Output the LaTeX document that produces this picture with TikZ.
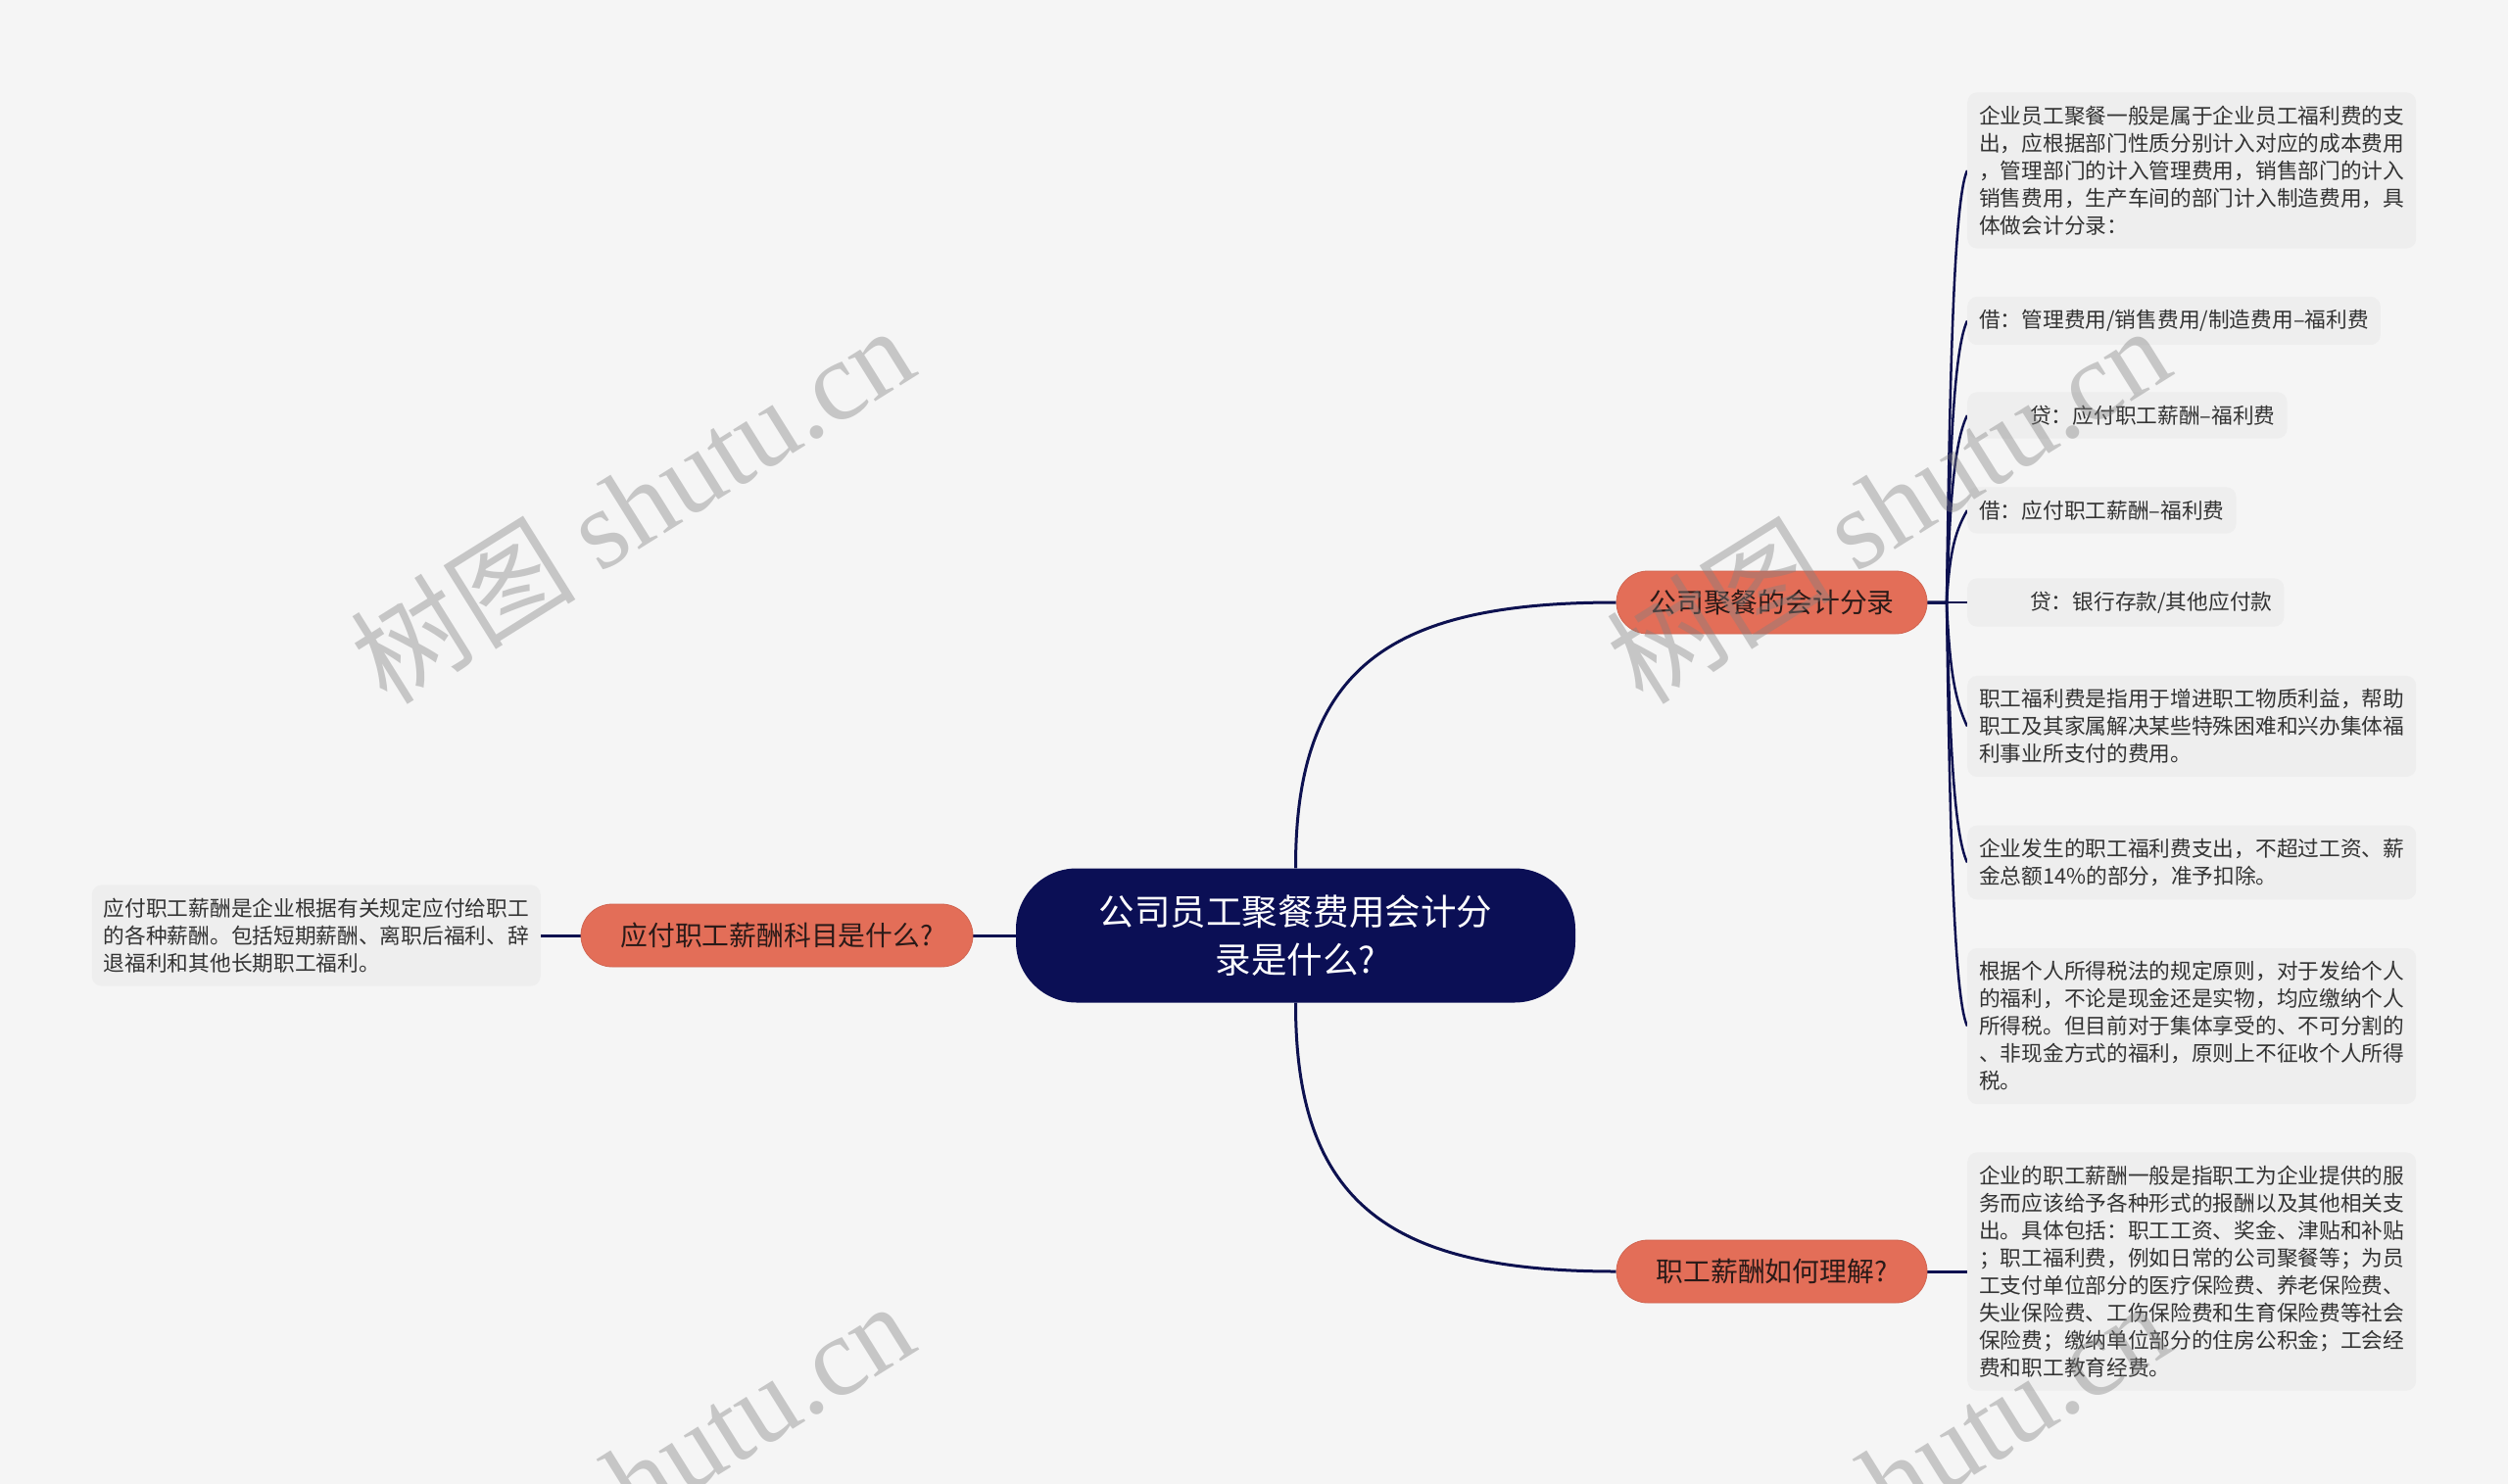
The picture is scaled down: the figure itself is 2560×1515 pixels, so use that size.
\documentclass[tikz,border=0pt]{standalone}
\usepackage{fontspec}
\setmainfont{Noto Sans CJK SC}
\newfontfamily\wmserif{Liberation Serif}
\usetikzlibrary{backgrounds}
\definecolor{bg}{HTML}{F5F5F5}
\definecolor{navy}{HTML}{0B0F55}
\definecolor{salmon}{HTML}{E36E58}
\definecolor{boxfill}{HTML}{EEEEEE}
\definecolor{linec}{HTML}{0D1150}
\definecolor{txt}{HTML}{333333}
\definecolor{topictxt}{HTML}{2A1A18}
\begin{document}
\begin{tikzpicture}[x=1pt,y=-1pt,
  root/.style={fill=navy, rounded corners=62pt, minimum width=571pt, minimum height=137pt, text=white, align=center, font=\fontsize{36.5}{49}\selectfont, inner sep=0pt},
  topic/.style={fill=salmon, draw=salmon!92!black, line width=0.8pt, rounded corners=32pt, minimum height=64pt, text=topictxt, font=\fontsize{27.8}{34}\selectfont, inner sep=0pt},
  leaf/.style={fill=boxfill, rounded corners=10pt, align=left, text=txt, font=\fontsize{21.7}{28}\selectfont, inner xsep=12pt, inner ysep=13.5pt},
  link/.style={draw=linec, line width=3pt},
  sublink/.style={draw=linec, line width=2.5pt},
  wm/.style={text=gray, opacity=0.4, rotate=32, font=\fontsize{115}{115}\selectfont}
]
\useasboundingbox (0,0) rectangle (2560,1515);

% nodes
\node[root] (c) at (1322.5,955) {公司员工聚餐费用会计分\\录是什么?};
\node[topic, minimum width=317pt] (t1) at (1808.5,615) {公司聚餐的会计分录};
\node[topic, minimum width=317pt] (t2) at (1808.5,1298) {职工薪酬如何理解?};
\node[topic, minimum width=400pt] (t3) at (793,955) {应付职工薪酬科目是什么?};

\node[leaf, anchor=east] (lb) at (552,955) {应付职工薪酬是企业根据有关规定应付给职工\\的各种薪酬。包括短期薪酬、离职后福利、辞\\退福利和其他长期职工福利。};

\node[leaf, anchor=west] (b1) at (2008,174) {企业员工聚餐一般是属于企业员工福利费的支\\出，应根据部门性质分别计入对应的成本费用\\，管理部门的计入管理费用，销售部门的计入\\销售费用，生产车间的部门计入制造费用，具\\体做会计分录：};
\node[leaf, anchor=west] (b2) at (2008,327.5) {借：管理费用/销售费用/制造费用–福利费};
\node[leaf, anchor=west] (b3) at (2008,424) {\hspace*{52pt}贷：应付职工薪酬–福利费};
\node[leaf, anchor=west] (b4) at (2008,521) {借：应付职工薪酬–福利费};
\node[leaf, anchor=west] (b5) at (2008,615) {\hspace*{52pt}贷：银行存款/其他应付款};
\node[leaf, anchor=west] (b6) at (2008,741.5) {职工福利费是指用于增进职工物质利益，帮助\\职工及其家属解决某些特殊困难和兴办集体福\\利事业所支付的费用。};
\node[leaf, anchor=west] (b7) at (2008,880.5) {企业发生的职工福利费支出，不超过工资、薪\\金总额14\%的部分，准予扣除。};
\node[leaf, anchor=west] (b8) at (2008,1047.5) {根据个人所得税法的规定原则，对于发给个人\\的福利，不论是现金还是实物，均应缴纳个人\\所得税。但目前对于集体享受的、不可分割的\\、非现金方式的福利，原则上不征收个人所得\\税。};
\node[leaf, anchor=west] (b9) at (2008,1298) {企业的职工薪酬一般是指职工为企业提供的服\\务而应该给予各种形式的报酬以及其他相关支\\出。具体包括：职工工资、奖金、津贴和补贴\\；职工福利费，例如日常的公司聚餐等；为员\\工支付单位部分的医疗保险费、养老保险费、\\失业保险费、工伤保险费和生育保险费等社会\\保险费；缴纳单位部分的住房公积金；工会经\\费和职工教育经费。};

% connectors
\coordinate (sp) at (1987,615);
\begin{scope}[on background layer]
\fill[bg] (0,0) rectangle (2560,1515);
\draw[link] (c.north) .. controls (1322,680) and (1420,615) .. (t1.west);
\draw[link] (c.south) .. controls (1322,1230) and (1420,1298) .. (t2.west);
\draw[link] (c.west) -- (t3.east);
\draw[link] (t3.west) -- (lb.east);
\draw[link] (t2.east) -- (b9.west);
\draw[sublink] (t1.east) -- (b5.west);
\draw[sublink] (t1.east) -- (sp) .. controls (1990,395) and (1994,204) .. (b1.west);
\draw[sublink] (t1.east) -- (sp) .. controls (1990,471) and (1994,357) .. (b2.west);
\draw[sublink] (t1.east) -- (sp) .. controls (1990,520) and (1994,452) .. (b3.west);
\draw[sublink] (t1.east) -- (sp) .. controls (1990,568) and (1994,545) .. (b4.west);
\draw[sublink] (t1.east) -- (sp) .. controls (1990,678) and (1994,712) .. (b6.west);
\draw[sublink] (t1.east) -- (sp) .. controls (1990,748) and (1994,851) .. (b7.west);
\draw[sublink] (t1.east) -- (sp) .. controls (1990,831) and (1994,1018) .. (b8.west);
\end{scope}

% watermarks
\node[wm] (w1) at (645,514) {树图 {\wmserif shutu.cn}};
\node[wm] (w2) at (1927,514) {树图 {\wmserif shutu.cn}};
\node[wm] (w3) at (645,1510) {树图 {\wmserif shutu.cn}};
\node[wm] (w4) at (1927,1510) {树图 {\wmserif shutu.cn}};
\end{tikzpicture}
\end{document}
